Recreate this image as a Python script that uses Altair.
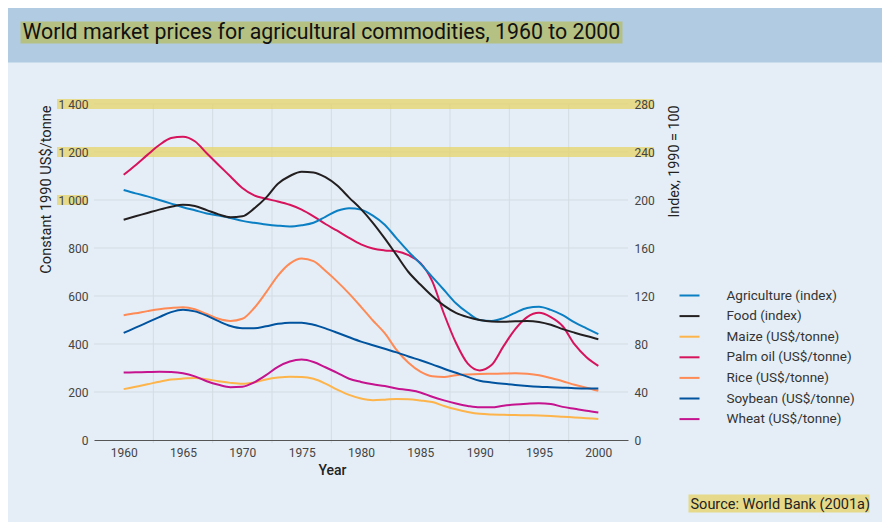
import altair as alt
import pandas as pd

FONT = "Roboto"

years = list(range(1960, 2001))

agriculture_index = [208.4, 205.5, 203, 200, 197, 194, 191.4, 188.8, 187, 185,
                     182.6, 181, 179.6, 178.6, 178, 179, 181, 186, 191, 193.2,
                     192, 187, 179.4, 168, 157, 147, 136, 125, 114, 106,
                     100, 99.2, 101.6, 106, 110, 111, 108.4, 104, 98, 93, 88.2]
food_index = [183.6, 186.4, 189.2, 192, 194.4, 196, 195, 191.6, 188, 185.6,
              186.4, 193, 202, 213.6, 220, 223.6, 223, 219, 212, 202,
              192.4, 181, 168, 154, 140, 129.6, 120, 112, 106, 102.4,
              100, 98.8, 98.6, 99, 99.2, 98.4, 96, 92.4, 89.4, 86.6, 84]
maize = [212, 222, 232, 243, 252, 256, 258, 253, 245, 238,
         234, 240, 252, 260, 264, 263, 255, 235, 210, 188,
         173, 166, 168, 171, 170, 165, 158, 142, 128, 117,
         109, 106, 105, 104, 103, 102, 100, 97, 94, 91, 88]
palm_oil = [1105, 1145, 1188, 1229, 1258, 1264, 1245, 1195, 1146, 1098,
            1050, 1019, 1005, 994, 980, 960, 932, 900, 872, 842,
            815, 798, 790, 786, 770, 738, 662, 525, 405, 318,
            290, 312, 390, 462, 512, 530, 512, 474, 398, 345, 309]
rice = [520, 528, 537, 545, 550, 553, 545, 525, 505, 496,
        505, 550, 615, 685, 735, 756, 745, 705, 660, 610,
        555, 498, 445, 375, 322, 285, 266, 263, 270, 273,
        275, 276, 277, 278, 276, 270, 258, 245, 230, 218, 205]
soybean = [446, 468, 490, 512, 533, 543, 536, 518, 495, 475,
           466, 466, 474, 484, 489, 489, 480, 465, 447, 428,
           410, 395, 380, 365, 348, 332, 315, 297, 280, 263,
           247, 240, 234, 229, 225, 222, 220, 218, 216, 215, 215]
wheat = [281, 282, 283, 284, 283, 278, 265, 245, 230, 220,
         222, 240, 270, 305, 327, 335, 325, 303, 280, 255,
         242, 232, 225, 215, 208, 198, 180, 165, 152, 142,
         136, 136, 143, 148, 151, 153, 150, 138, 130, 122, 115]

price_ticks = [0, 200, 400, 600, 800, 1000, 1200, 1400]
price_grid = [200, 400, 600, 800, 1000, 1200, 1400]
index_ticks = [0, 40, 80, 120, 160, 200, 240, 280]
year_ticks = [1960, 1965, 1970, 1975, 1980, 1985, 1990, 1995, 2000]
year_grid = [1962.5, 1967.5, 1972.5, 1977.5, 1982.5, 1987.5, 1992.5, 1997.5]
highlight_levels = [1400, 1200]

series_names = ["Agriculture (index)", "Food (index)", "Maize (US$/tonne)",
                "Palm oil (US$/tonne)", "Rice (US$/tonne)", "Soybean (US$/tonne)",
                "Wheat (US$/tonne)"]
series_colors = ["#0b7fc3", "#231f20", "#fdb44b", "#d6135c", "#fe8a56",
                 "#00539f", "#c5128e"]

price_series = {"Maize (US$/tonne)": maize, "Palm oil (US$/tonne)": palm_oil,
                "Rice (US$/tonne)": rice, "Soybean (US$/tonne)": soybean,
                "Wheat (US$/tonne)": wheat}
index_series = {"Agriculture (index)": agriculture_index, "Food (index)": food_index}

price_df = pd.DataFrame([{"Year": y, "series": k, "value": v}
                         for k, vals in price_series.items() for y, v in zip(years, vals)])
index_df = pd.DataFrame([{"Year": y, "series": k, "value": v}
                         for k, vals in index_series.items() for y, v in zip(years, vals)])

W, H = 534, 336
PL, PT, PR, PB = 86, 96, 254, 82
GRID = "#d3dbe3"

xscale = alt.Scale(domain=[1957.5, 2002.5], nice=False, zero=False)
yprice = alt.Scale(domain=[0, 1400], nice=False)
xaxis = alt.Axis(values=year_ticks, format="d", grid=False, ticks=False, domain=True,
                 domainColor="#555555", domainWidth=1, labelPadding=7, labelFontSize=12,
                 labelColor="#444444", labelFont=FONT, title="Year", titleFont=FONT,
                 titleFontSize=14, titleFontWeight=500, titleColor="#222222",
                 titleX=238, titleY=30, titleBaseline="middle", zindex=1)

legend = alt.Legend(title=None, orient="none", legendX=584.5, legendY=180.5,
                    symbolType="stroke", symbolSize=400, symbolStrokeWidth=2,
                    labelFontSize=13.5, labelFont=FONT, labelColor="#333333",
                    labelOffset=26, rowPadding=2.6, padding=0)
color = alt.Color("series:N", scale=alt.Scale(domain=series_names, range=series_colors),
                  legend=legend)

label_expr = "replace(format(datum.value, ','), ',', ' ')"

# title band
title_band = alt.Chart().mark_rect(color="#b0cbe2").encode(
    x=alt.value(-PL), x2=alt.value(W + PR), y=alt.value(-PT), y2=alt.value(-41.5))
title_hl = alt.Chart().mark_rect(color="#b5c083").encode(
    x=alt.value(-73.5), x2=alt.value(528.5), y=alt.value(-82.5), y2=alt.value(-60.5))
title_text = alt.Chart().mark_text(align="left", baseline="alphabetic", fontSize=21.3,
                                   font=FONT, color="#111111").encode(
    x=alt.value(-71.5), y=alt.value(-65),
    text=alt.value("World market prices for agricultural commodities, 1960 to 2000"))

# grid lines
vgrid = alt.Chart(pd.DataFrame({"g": year_grid})).mark_rule(color=GRID, strokeWidth=1).encode(
    x=alt.X("g:Q", scale=xscale, axis=xaxis), y=alt.value(0), y2=alt.value(H + 3))
hgrid = alt.Chart(pd.DataFrame({"h": price_grid})).mark_rule(color=GRID, strokeWidth=1).encode(
    y=alt.Y("h:Q", scale=yprice, axis=None), x=alt.value(0), x2=alt.value(W))

# yellow highlight bands
bands = alt.Chart(pd.DataFrame({"lvl": highlight_levels})).mark_rule(
    color="#e6d36a", opacity=0.75, strokeWidth=10).encode(
    y=alt.Y("lvl:Q", scale=yprice, axis=None),
    x=alt.value(-37), x2=alt.value(560))
band_1000 = alt.Chart(pd.DataFrame({"lvl": [1000]})).mark_rule(
    color="#e6d36a", opacity=0.75, strokeWidth=10).encode(
    y=alt.Y("lvl:Q", scale=yprice, axis=None),
    x=alt.value(-37), x2=alt.value(-6))

price_lines = alt.Chart(price_df).mark_line(strokeWidth=2, interpolate="monotone").encode(
    x=alt.X("Year:Q", scale=xscale, axis=xaxis),
    y=alt.Y("value:Q", scale=yprice,
            axis=alt.Axis(orient="left", values=price_ticks, labelExpr=label_expr,
                          grid=False, ticks=False, domain=False,
                          labelPadding=6, labelFontSize=12, labelFont=FONT,
                          labelColor="#444444", title="Constant 1990 US$/tonne",
                          titleFont=FONT, titleFontSize=14.6, titleFontWeight="normal",
                          titleColor="#222222", titleAngle=270, titleAlign="right",
                          titleBaseline="middle", titleX=-48, titleY=1, zindex=1)),
    color=color)

index_lines = alt.Chart(index_df).mark_line(strokeWidth=2, interpolate="monotone").encode(
    x=alt.X("Year:Q", scale=xscale, axis=xaxis),
    y=alt.Y("value:Q", scale=alt.Scale(domain=[0, 280], nice=False),
            axis=alt.Axis(orient="right", values=index_ticks, grid=False, ticks=False,
                          domain=False, labelPadding=6, labelFontSize=12, labelFont=FONT,
                          labelColor="#444444", title="Index, 1990 = 100",
                          titleFont=FONT, titleFontSize=14.3, titleFontWeight="normal",
                          titleColor="#222222", titleAngle=270, titleAlign="right",
                          titleBaseline="middle", titleX=46, titleY=1, zindex=1)),
    color=color)

source_hl = alt.Chart().mark_rect(color="#e6da8a").encode(
    x=alt.value(594.5), x2=alt.value(775.5), y=alt.value(390.5), y2=alt.value(408.5))
source_text = alt.Chart().mark_text(align="left", baseline="alphabetic", fontSize=14.5,
                                    font=FONT, color="#222222").encode(
    x=alt.value(596.5), y=alt.value(404.5), text=alt.value("Source: World Bank (2001a)"))

chart = alt.layer(
    title_band, title_hl, title_text, vgrid, hgrid, bands, band_1000,
    price_lines, index_lines, source_hl, source_text
).resolve_scale(y="independent").properties(
    width=W, height=H,
    padding={"left": PL, "top": PT, "right": PR, "bottom": PB},
    autosize=alt.AutoSizeParams(type="none"),
    background="#e5eef6",
).configure_view(stroke=None)

chart.save("out.html", embed_options={"renderer": "svg", "actions": False})
